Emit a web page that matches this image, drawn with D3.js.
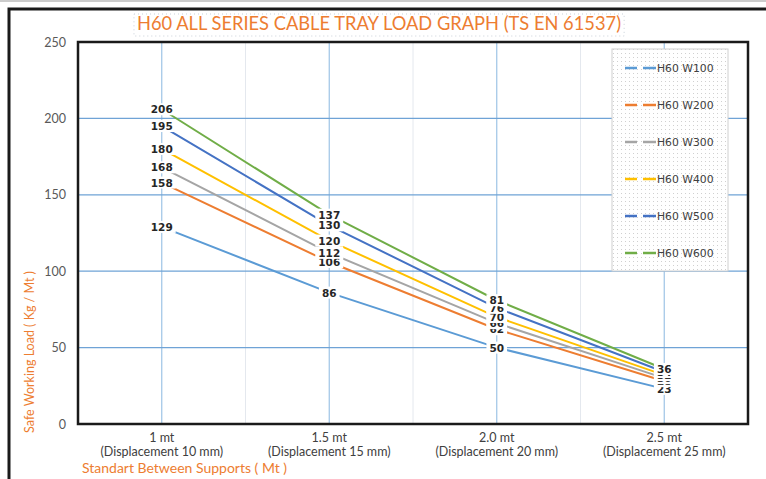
<!DOCTYPE html>
<html><head><meta charset="utf-8">
<script src="https://cdn.jsdelivr.net/npm/d3@7"></script>
<style>body{margin:0;background:#fff;}svg{display:block;}</style>
</head><body>
<div id="chart"></div>
<script>
const categories = ["1 mt", "1.5 mt", "2.0 mt", "2.5 mt"];
const subLabels = ["(Displacement 10 mm)", "(Displacement 15 mm)", "(Displacement 20 mm)", "(Displacement 25 mm)"];
const seriesNames = ["H60 W100", "H60 W200", "H60 W300", "H60 W400", "H60 W500", "H60 W600"];
const w100 = [129, 86, 50, 23];
const w200 = [158, 106, 62, 28];
const w300 = [168, 112, 66, 30];
const w400 = [180, 120, 70, 32];
const w500 = [195, 130, 76, 34];
const w600 = [206, 137, 81, 36];
const seriesColors = ["#5B9BD5", "#ED7D31", "#A5A5A5", "#FFC000", "#4472C4", "#70AD47"];
const yTicks = [0, 50, 100, 150, 200, 250];
const titleText = "H60 ALL SERIES CABLE TRAY LOAD GRAPH (TS EN 61537)";
const yTitle = "Safe Working Load ( Kg / Mt )";
const xTitle = "Standart Between Supports ( Mt )";

const seriesValues = [w100, w200, w300, w400, w500, w600];
const W = 766, H = 479;
const svg = d3.select("#chart").append("svg").attr("width", W).attr("height", H);

const defs = svg.append("defs");
const pat = defs.append("pattern").attr("id", "dots").attr("width", 4).attr("height", 4).attr("patternUnits", "userSpaceOnUse");
pat.append("rect").attr("width", 4).attr("height", 4).attr("fill", "#fff");
pat.append("rect").attr("x", 1).attr("y", 1).attr("width", 1).attr("height", 1).attr("fill", "#d0d0d0");

// outer frame
svg.append("line").attr("x1", 0).attr("x2", W).attr("y1", 1).attr("y2", 1).attr("stroke", "#ccc").attr("stroke-width", 2);
svg.append("path").attr("d", `M9,${H} V9 H${W}`).attr("fill", "none").attr("stroke", "#1a1a1a").attr("stroke-width", 3);

// title
const tg = svg.append("g");
const tt = tg.append("text").attr("x", 379).attr("y", 30).attr("text-anchor", "middle")
  .attr("font-family", "Lato").attr("font-size", 18.3).attr("fill", "#ED7D31").text(titleText);
const tb = tt.node().getBBox();
tg.insert("rect", "text").attr("x", tb.x - 3).attr("y", 14).attr("width", tb.width + 6).attr("height", 22)
  .attr("fill", "none").attr("stroke", "#c8d0d8").attr("stroke-dasharray", "1,3");

const m = {left: 78, right: 748, top: 42, bottom: 424};
const x = d3.scaleBand().domain(categories).range([m.left, m.right]).padding(0);
const y = d3.scaleLinear().domain([0, 250]).range([m.bottom, m.top]);

// boundary gridlines (faint)
const bounds = categories.slice(1).map(c => x(c));
svg.append("g").selectAll("line").data(bounds).join("line")
  .attr("x1", d => d).attr("x2", d => d).attr("y1", m.top).attr("y2", m.bottom)
  .attr("stroke", "#e4e8ee").attr("stroke-width", 1);
// vertical gridlines at categories
svg.append("g").selectAll("line").data(categories).join("line")
  .attr("x1", d => x(d) + x.bandwidth() / 2).attr("x2", d => x(d) + x.bandwidth() / 2)
  .attr("y1", m.top).attr("y2", m.bottom).attr("stroke", "#9DC3E6").attr("stroke-width", 1.2);
// horizontal gridlines
svg.append("g").selectAll("line").data(yTicks.slice(1, -1)).join("line")
  .attr("x1", m.left).attr("x2", m.right).attr("y1", d => y(d)).attr("y2", d => y(d))
  .attr("stroke", "#6FA3D6").attr("stroke-width", 1.2);

// y axis labels
const yAxis = d3.axisLeft(y).tickValues(yTicks).tickSize(0).tickPadding(12);
const ya = svg.append("g").attr("transform", `translate(${m.left},0)`).call(yAxis);
ya.select(".domain").remove();
ya.selectAll("text").attr("font-family", "Lato").attr("font-size", 12.5).attr("fill", "#595959");

// x axis labels
const xAxis = d3.axisBottom(x).tickSize(0).tickPadding(9);
const xa = svg.append("g").attr("transform", `translate(0,${m.bottom})`).call(xAxis);
xa.select(".domain").remove();
xa.selectAll("text").attr("font-family", "Lato").attr("font-size", 12.5).attr("fill", "#404040")
  .each(function(d, i) {
    const t = d3.select(this);
    t.append("tspan").attr("x", 0).attr("dy", "1.1em").text(subLabels[i]);
  });

// plot frame
svg.append("rect").attr("x", m.left).attr("y", m.top).attr("width", m.right - m.left).attr("height", m.bottom - m.top)
  .attr("fill", "none").attr("stroke", "#1a1a1a").attr("stroke-width", 2.5);

// lines
const line = d3.line().x((d, i) => x(categories[i]) + x.bandwidth() / 2).y(d => y(d));
svg.append("g").selectAll("path").data(seriesValues).join("path")
  .attr("d", d => line(d)).attr("fill", "none")
  .attr("stroke", (d, i) => seriesColors[i]).attr("stroke-width", 2);

// data labels
const lg = svg.append("g");
seriesValues.forEach((vals, si) => {
  vals.forEach((v, i) => {
    const cx = x(categories[i]) + x.bandwidth() / 2, cy = y(v);
    const g = lg.append("g");
    const t = g.append("text").attr("x", cx).attr("y", cy + 4).attr("text-anchor", "middle")
      .attr("font-family", "DejaVu Sans").attr("font-weight", "bold").attr("font-size", 10.5)
      .attr("fill", "#262626").text(v);
    const b = t.node().getBBox();
    g.insert("rect", "text").attr("x", b.x - 3).attr("y", b.y).attr("width", b.width + 6).attr("height", b.height)
      .attr("fill", "#fff");
  });
});

// legend
const L = {x: 612, y: 49, w: 116, h: 222};
const leg = svg.append("g");
leg.append("rect").attr("x", L.x).attr("y", L.y).attr("width", L.w).attr("height", L.h)
  .attr("fill", "url(#dots)").attr("stroke", "#d0d0d0").attr("stroke-width", 1);
seriesNames.forEach((n, i) => {
  const ly = 68 + i * 37;
  leg.append("line").attr("x1", 625).attr("x2", 637).attr("y1", ly).attr("y2", ly)
    .attr("stroke", seriesColors[i]).attr("stroke-width", 2.5);
  leg.append("line").attr("x1", 643).attr("x2", 656).attr("y1", ly).attr("y2", ly)
    .attr("stroke", seriesColors[i]).attr("stroke-width", 2.5);
  leg.append("text").attr("x", 657).attr("y", ly + 4).attr("font-family", "DejaVu Sans").attr("font-size", 10.8)
    .attr("fill", "#404040").text(n);
});

// axis titles
svg.append("text").attr("transform", "translate(34,352) rotate(-90)").attr("text-anchor", "middle")
  .attr("font-family", "Lato").attr("font-size", 12.5).attr("fill", "#ED7D31").text(yTitle);
svg.append("text").attr("x", 82).attr("y", 473).attr("font-family", "Lato").attr("font-size", 14)
  .attr("fill", "#ED7D31").text(xTitle);
</script>
</body></html>
